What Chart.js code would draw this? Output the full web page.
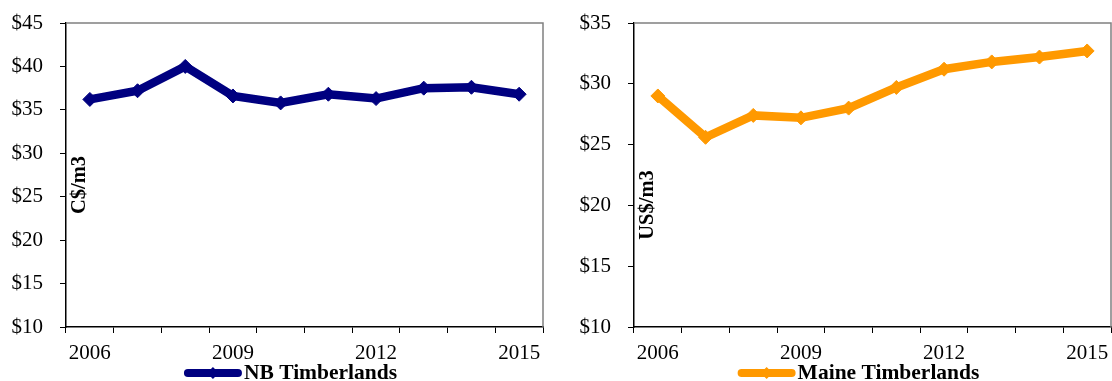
<!DOCTYPE html>
<html>
<head>
<meta charset="utf-8">
<script src="https://cdnjs.cloudflare.com/ajax/libs/Chart.js/4.4.1/chart.umd.min.js"></script>
<style>
  html, body { margin: 0; padding: 0; background: #fff; }
  body { width: 1112px; height: 381px; position: relative; overflow: hidden; }
  canvas { position: absolute; top: 0; }
  #nbChart { left: 0; }
  #maineChart { left: 568px; }
</style>
</head>
<body>
<canvas id="nbChart" width="556" height="381"></canvas>
<canvas id="maineChart" width="556" height="381"></canvas>
<script>
const YEARS = ['2006', '2007', '2008', '2009', '2010', '2011', '2012', '2013', '2014', '2015'];
const LABELED_YEARS = ['2006', '2009', '2012', '2015'];

// stumpage price per cubic metre
const NB_PRICES = [36.2, 37.2, 40.0, 36.6, 35.8, 36.8, 36.3, 37.5, 37.6, 36.8];
const MAINE_PRICES = [29.0, 25.6, 27.4, 27.2, 28.0, 29.7, 31.2, 31.8, 32.2, 32.7];

const NB_RANGE = [10, 45];
const MAINE_RANGE = [10, 35];

const SERIF = '"Liberation Serif", "Times New Roman", serif';
const NAVY = '#000080';
const ORANGE = '#ff9900';

/** Grey top/right edge of the plot box (axes give the other two) */
const plotFrame = {
  id: 'plotFrame',
  beforeDatasetsDraw(chart) {
    const { ctx, chartArea: a } = chart;
    ctx.save();
    ctx.strokeStyle = '#808080';
    ctx.lineWidth = 1.5;
    ctx.beginPath();
    ctx.moveTo(a.left, a.top);
    ctx.lineTo(a.right, a.top);
    ctx.lineTo(a.right, a.bottom);
    ctx.stroke();
    ctx.restore();
  },
};

/** Rotated unit label sitting inside the plot, next to the y axis */
const unitLabel = {
  id: 'unitLabel',
  afterDatasetsDraw(chart, args, opts) {
    if (!opts.text) return;
    const { ctx, chartArea: a } = chart;
    ctx.save();
    ctx.translate(a.left + opts.dx, opts.y);
    ctx.rotate(-Math.PI / 2);
    ctx.font = `bold 20.5px ${SERIF}`;
    ctx.fillStyle = '#000';
    ctx.textAlign = 'center';
    ctx.textBaseline = 'middle';
    ctx.fillText(opts.text, 0, 0);
    ctx.restore();
  },
};

/** Legend: thick line with a diamond marker, then bold series name */
const lineLegend = {
  id: 'lineLegend',
  afterDraw(chart) {
    const ds = chart.data.datasets[0];
    const { ctx, chartArea: a } = chart;
    ctx.save();
    ctx.font = `bold 21.5px ${SERIF}`;
    const textW = ctx.measureText(ds.label).width;
    const lineW = 58;
    const x0 = (a.left + a.right) / 2 - 14 - (lineW + 2 + textW) / 2;
    const y = a.bottom + 46;

    ctx.strokeStyle = ds.borderColor;
    ctx.lineWidth = 8;
    ctx.lineCap = 'round';
    ctx.beginPath();
    ctx.moveTo(x0 + 4, y);
    ctx.lineTo(x0 + lineW - 4, y);
    ctx.stroke();

    const cx = x0 + lineW / 2, r = 6;
    ctx.fillStyle = ds.borderColor;
    ctx.beginPath();
    ctx.moveTo(cx, y - r);
    ctx.lineTo(cx + r, y);
    ctx.lineTo(cx, y + r);
    ctx.lineTo(cx - r, y);
    ctx.closePath();
    ctx.fill();

    ctx.fillStyle = '#000';
    ctx.textBaseline = 'alphabetic';
    ctx.fillText(ds.label, x0 + lineW + 2, y + 6);
    ctx.restore();
  },
};

/** Price line chart with Excel-style category axis */
function priceChart(id, label, data, color, range, unit, unitY) {
  return new Chart(document.getElementById(id), {
    type: 'line',
    data: {
      labels: YEARS,
      datasets: [{
        label,
        data,
        borderColor: color,
        backgroundColor: color,
        borderWidth: 8.5,
        tension: 0,
        pointStyle: 'rectRot',
        pointRadius: 7,
        pointBorderWidth: 1,
        pointBackgroundColor: color,
        pointBorderColor: color,
      }],
    },
    options: {
      responsive: false,
      animation: false,
      layout: { padding: { left: 0, top: 23, right: 13, bottom: 17 } },
      plugins: {
        legend: { display: false },
        tooltip: { enabled: false },
        unitLabel: { text: unit, dx: 14, y: unitY },
      },
      scales: {
        x: {
          type: 'category',
          offset: true,
          afterFit: s => { s.height = 37; },
          grid: {
            offset: true,
            drawOnChartArea: false,
            drawTicks: true,
            tickLength: 6,
            tickColor: '#000',
            tickWidth: 1,
          },
          border: { color: '#000', width: 1.5 },
          ticks: {
            autoSkip: false,
            maxRotation: 0,
            padding: 8,
            color: '#000',
            font: { family: SERIF, size: 21 },
            callback(v) {
              const y = this.getLabelForValue(v);
              return LABELED_YEARS.includes(y) ? y : '';
            },
          },
        },
        y: {
          min: range[0],
          max: range[1],
          // fixed width; the wide label gap shouldn't push the plot down
          afterFit: s => { s.width = 66; s.paddingTop = 0; s.paddingBottom = 0; },
          grid: {
            drawOnChartArea: false,
            drawTicks: true,
            tickLength: 6,
            tickColor: '#000',
            tickWidth: 1,
          },
          border: { color: '#000', width: 1.5 },
          ticks: {
            stepSize: 5,
            padding: 17,
            color: '#000',
            font: { family: SERIF, size: 21 },
            callback: v => '$' + v,
          },
        },
      },
    },
    plugins: [plotFrame, unitLabel, lineLegend],
  });
}

priceChart('nbChart', 'NB Timberlands', NB_PRICES, NAVY, NB_RANGE, 'C$/m3', 185);
priceChart('maineChart', 'Maine Timberlands', MAINE_PRICES, ORANGE, MAINE_RANGE, 'US$/m3', 205);
</script>
</body>
</html>
